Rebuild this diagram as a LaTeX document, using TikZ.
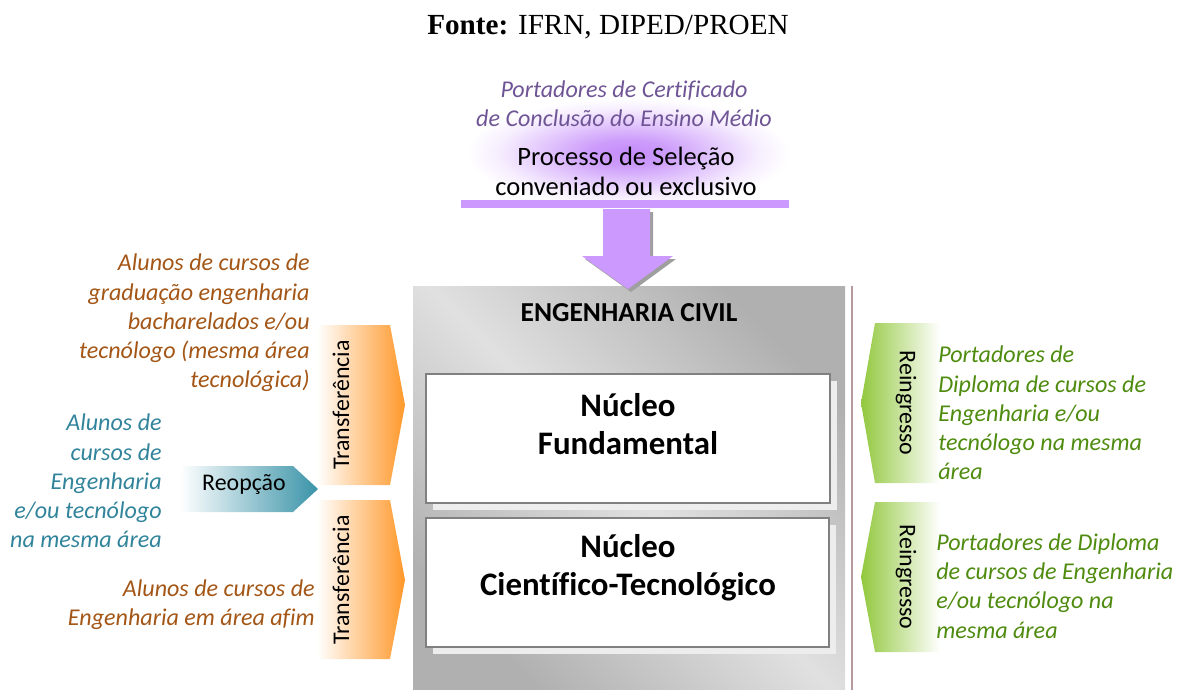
\documentclass[tikz,border=0pt]{standalone}
\usepackage{fontspec}
\setmainfont[Ligatures=NoCommon]{Carlito}
\newfontfamily\titlefont{Liberation Serif}
\usetikzlibrary{shadows}
\definecolor{purplebar}{HTML}{CC99FF}
\definecolor{purpleglow}{HTML}{C48BFA}
\definecolor{purpletext}{HTML}{6F5596}
\definecolor{browntext}{HTML}{A35616}
\definecolor{tealtext}{HTML}{31849B}
\definecolor{tealarrow}{HTML}{3A93A8}
\definecolor{greentext}{HTML}{4E8B0E}
\definecolor{greenarrow}{HTML}{92C83E}
\definecolor{orangearrow}{HTML}{FF982A}
\definecolor{boxline}{HTML}{808080}
\definecolor{rosyline}{HTML}{B49A9A}
\pgfdeclareradialshading{selglow}{\pgfpoint{0bp}{0bp}}{color(0bp)=(purpleglow);
  color(6bp)=(purpleglow!85!white); color(14bp)=(purpleglow!45!white);
  color(20bp)=(purpleglow!15!white); color(25bp)=(white); color(50bp)=(white)}
\begin{document}
\begin{tikzpicture}[x=0.02cm,y=-0.02cm,
    every node/.style={inner sep=0pt},
    side text/.style={font=\fontsize{13.7}{16.6}\selectfont\itshape},
    tag text/.style={font=\fontsize{13.6}{15}\selectfont},
    core box/.style={draw=boxline, line width=1.1pt, fill=white,
      minimum width=8.08cm, minimum height=2.58cm,
      drop shadow={shadow xshift=0.14cm, shadow yshift=-0.14cm, fill=black!7, opacity=1}},
    core text/.style={font=\fontsize{18.7}{21.6}\selectfont\bfseries, align=center}]
\useasboundingbox (0,0) rectangle (1181,690);

\node (fonte) at (608,27) {\titlefont\fontsize{16.6}{20}\selectfont\textbf{Fonte:} IFRN, DIPED/PROEN};

% selection process
\shade[shading=selglow] (466,98) rectangle (790,208);
\node[side text, text=purpletext, align=center] (certificado) at (624,104) {Portadores de Certificado\\de Conclusão do Ensino Médio};
\node[font=\fontsize{15.1}{17.2}\selectfont, align=center] (processo) at (626,171) {Processo de Seleção\\conveniado ou exclusivo};
\fill[purplebar] (461,200) rectangle (789,208);

% course block
\shade[left color=gray!62, right color=gray!62, middle color=gray!24, shading angle=135] (413,286) rectangle (845,690);
\draw[rosyline, line width=1.2pt] (852,286) -- (852,690);
\node[font=\fontsize{15.6}{17}\selectfont\bfseries] (curso) at (629,313) {ENGENHARIA CIVIL};
\node[core box] (fund) at (628,438.5) {};
\node[core text] (fundtext) at (628,424) {Núcleo\\Fundamental};
\node[core box] (cient) at (627.5,582.5) {};
\node[core text] (cienttext) at (628,568) {Núcleo\\Científico-Tecnológico};

% entry arrow
\fill[gray!75] (606,212) -- (653,212) -- (653,259) -- (676,259) -- (631,292) -- (585,259) -- (606,259) -- cycle;
\fill[purplebar] (603,209) -- (650,209) -- (650,256) -- (673,256) -- (628,289) -- (582,256) -- (603,256) -- cycle;

% left side
\shade[left color=white, right color=orangearrow] (317,325) -- (390,325) -- (405,405) -- (390,485) -- (317,485) -- cycle;
\shade[left color=white, right color=orangearrow] (317,500) -- (390,500) -- (405,580) -- (390,659) -- (317,659) -- cycle;
\node[tag text, rotate=90] (transf1) at (341,405) {Transferência};
\node[tag text, rotate=90] (transf2) at (341,580) {Transferência};
\shade[left color=white, right color=tealarrow] (180,466) -- (293,466) -- (318,489) -- (293,512) -- (180,512) -- cycle;
\node[tag text] (reopcao) at (244,485) {Reopção};
\node[side text, text=browntext, align=right, anchor=east] (grad) at (310,323) {Alunos de cursos de\\graduação engenharia\\bacharelados e/ou\\tecnólogo (mesma área\\tecnológica)};
\node[side text, text=tealtext, align=right, anchor=east] (reop) at (162,481) {Alunos de\\cursos de\\Engenharia\\e/ou tecnólogo\\na mesma área};
\node[side text, text=browntext, align=right, anchor=east] (afim) at (315,605) {Alunos de cursos de\\Engenharia em área afim};

% right side
\shade[left color=greenarrow, right color=white] (875,323) -- (940,323) -- (940,483) -- (875,483) -- (861,403) -- cycle;
\shade[left color=greenarrow, right color=white] (875,502) -- (940,502) -- (940,652) -- (875,652) -- (861,577) -- cycle;
\node[tag text, rotate=-90] (reing1) at (906,403) {Reingresso};
\node[tag text, rotate=-90] (reing2) at (906,577) {Reingresso};
\node[side text, text=greentext, align=left, anchor=west] (dipl1) at (938,413) {Portadores de\\Diploma de cursos de\\Engenharia e/ou\\tecnólogo na mesma\\área};
\node[side text, text=greentext, align=left, anchor=west] (dipl2) at (936,586) {Portadores de Diploma\\de cursos de Engenharia\\e/ou tecnólogo na\\mesma área};
\end{tikzpicture}
\end{document}
